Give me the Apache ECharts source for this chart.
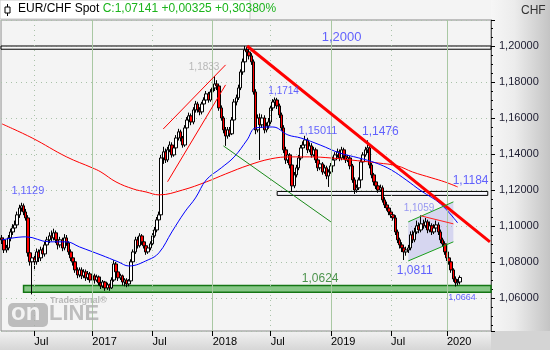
<!DOCTYPE html>
<html><head><meta charset="utf-8">
<script src="https://cdn.jsdelivr.net/npm/echarts@6/dist/echarts.min.js"></script>
<style>
html,body{margin:0;padding:0;background:#fff;}
#wrap{position:relative;width:550px;height:350px;overflow:hidden;}
#topbg{position:absolute;left:0;top:0;width:491px;height:20px;background:#f4f4f4;}
#rightbg{position:absolute;left:491px;top:0;width:59px;height:331px;background:linear-gradient(to right,#f6f6f6,#ececec 40%,#c4c4c4);}
#bottombg{position:absolute;left:0;top:331px;width:491px;height:19px;background:linear-gradient(to bottom,#f2f2f2,#d6d6d6);}
#cornerbg{position:absolute;left:491px;top:331px;width:59px;height:19px;background:#d4d4d4;}
#c{position:absolute;left:0;top:0;width:550px;height:350px;}
</style>
</head><body>
<div id="wrap"><div id="topbg"></div><div id="rightbg"></div><div id="bottombg"></div><div id="cornerbg"></div><div id="c"></div></div>
<script>
// weekly candles: [open, close, low, high]
const weeks = [
[1.0934,1.0923,1.0900,1.0950],[1.0923,1.0867,1.0850,1.0935],[1.0867,1.0878,1.0852,1.0895],[1.0878,1.0934,1.0865,1.0950],
[1.0934,1.0967,1.0915,1.0985],[1.0967,1.0989,1.0950,1.1010],[1.0989,1.1006,1.0970,1.1030],[1.1006,1.1062,1.0995,1.1080],
[1.1062,1.1100,1.1045,1.1118],[1.1100,1.1112,1.1080,1.1129],[1.1112,1.1078,1.1060,1.1125],[1.1078,1.1045,1.1030,1.1095],
[1.1045,1.0851,1.0830,1.1060],[1.0851,1.0801,1.0780,1.0880],[1.0801,1.0823,1.0620,1.0850],[1.0823,1.0801,1.0760,1.0840],
[1.0801,1.0856,1.0785,1.0875],[1.0856,1.0823,1.0800,1.0870],[1.0823,1.0867,1.0805,1.0885],[1.0867,1.0845,1.0825,1.0880],
[1.0845,1.0895,1.0830,1.0912],[1.0895,1.0923,1.0880,1.0940],[1.0923,1.0945,1.0905,1.0965],[1.0945,1.0934,1.0915,1.0975],
[1.0934,1.0962,1.0920,1.0985],[1.0962,1.0923,1.0905,1.0975],[1.0923,1.0895,1.0870,1.0935],[1.0895,1.0923,1.0880,1.0940],
[1.0923,1.0878,1.0860,1.0935],[1.0878,1.0934,1.0865,1.0955],[1.0934,1.0906,1.0890,1.0950],[1.0906,1.0856,1.0840,1.0915],
[1.0856,1.0823,1.0805,1.0870],[1.0823,1.0801,1.0780,1.0835],[1.0801,1.0756,1.0740,1.0815],[1.0756,1.0728,1.0710,1.0770],
[1.0728,1.0756,1.0715,1.0770],[1.0756,1.0723,1.0705,1.0770],[1.0723,1.0745,1.0710,1.0760],[1.0745,1.0712,1.0695,1.0758],
[1.0712,1.0734,1.0700,1.0750],[1.0734,1.0700,1.0685,1.0745],[1.0700,1.0723,1.0690,1.0740],[1.0723,1.0700,1.0680,1.0735],
[1.0700,1.0717,1.0690,1.0730],[1.0717,1.0684,1.0670,1.0725],[1.0684,1.0667,1.0650,1.0695],[1.0667,1.0689,1.0655,1.0700],
[1.0689,1.0656,1.0640,1.0695],[1.0656,1.0673,1.0645,1.0685],[1.0673,1.0656,1.0640,1.0680],[1.0656,1.0700,1.0650,1.0715],
[1.0700,1.0789,1.0690,1.0810],[1.0789,1.0745,1.0730,1.0800],[1.0745,1.0712,1.0695,1.0755],[1.0712,1.0723,1.0700,1.0735],
[1.0723,1.0689,1.0670,1.0730],[1.0689,1.0700,1.0665,1.0710],[1.0700,1.0678,1.0660,1.0710],[1.0678,1.0695,1.0665,1.0705],
[1.0695,1.0801,1.0690,1.0815],[1.0801,1.0856,1.0790,1.0870],[1.0856,1.0923,1.0845,1.0940],[1.0923,1.0890,1.0875,1.0940],
[1.0890,1.0945,1.0880,1.0960],[1.0945,1.0912,1.0895,1.0955],[1.0912,1.0890,1.0875,1.0925],[1.0890,1.0856,1.0840,1.0900],
[1.0856,1.0878,1.0845,1.0890],[1.0878,1.0901,1.0865,1.0915],[1.0901,1.0945,1.0890,1.0960],[1.0945,1.0978,1.0935,1.0995],
[1.0978,1.1034,1.0965,1.1050],[1.1034,1.1062,1.1020,1.1080],[1.1062,1.1378,1.1050,1.1395],[1.1378,1.1412,1.1345,1.1440],
[1.1412,1.1367,1.1350,1.1430],[1.1367,1.1423,1.1355,1.1440],[1.1423,1.1450,1.1410,1.1470],[1.1450,1.1395,1.1380,1.1465],
[1.1395,1.1434,1.1385,1.1450],[1.1434,1.1489,1.1420,1.1505],[1.1489,1.1523,1.1475,1.1540],[1.1523,1.1489,1.1470,1.1535],
[1.1489,1.1450,1.1435,1.1500],[1.1450,1.1545,1.1440,1.1560],[1.1545,1.1589,1.1530,1.1605],[1.1589,1.1612,1.1575,1.1630],
[1.1612,1.1578,1.1560,1.1625],[1.1578,1.1645,1.1565,1.1660],[1.1645,1.1678,1.1630,1.1695],[1.1678,1.1645,1.1630,1.1690],
[1.1645,1.1634,1.1615,1.1660],[1.1634,1.1678,1.1620,1.1690],[1.1678,1.1700,1.1665,1.1715],[1.1700,1.1734,1.1690,1.1750],
[1.1734,1.1700,1.1685,1.1745],[1.1700,1.1745,1.1690,1.1760],[1.1745,1.1767,1.1730,1.1785],[1.1767,1.1789,1.1750,1.1833],
[1.1789,1.1778,1.1755,1.1810],[1.1778,1.1656,1.1640,1.1790],[1.1656,1.1600,1.1585,1.1670],[1.1600,1.1534,1.1515,1.1610],
[1.1534,1.1500,1.1445,1.1550],[1.1500,1.1534,1.1485,1.1550],[1.1534,1.1512,1.1495,1.1550],[1.1512,1.1589,1.1505,1.1605],
[1.1589,1.1689,1.1580,1.1705],[1.1689,1.1712,1.1670,1.1730],[1.1712,1.1767,1.1700,1.1785],[1.1767,1.1856,1.1755,1.1870],
[1.1856,1.1912,1.1840,1.1930],[1.1912,1.1978,1.1900,1.2000],[1.1978,1.1967,1.1945,1.1995],[1.1967,1.1945,1.1925,1.1985],
[1.1945,1.1912,1.1895,1.1960],[1.1912,1.1745,1.1730,1.1925],[1.1745,1.1534,1.1510,1.1760],[1.1534,1.1600,1.1520,1.1620],
[1.1600,1.1562,1.1367,1.1625],[1.1562,1.1600,1.1545,1.1620],[1.1600,1.1534,1.1515,1.1615],[1.1534,1.1556,1.1520,1.1575],
[1.1556,1.1578,1.1540,1.1600],[1.1578,1.1656,1.1565,1.1670],[1.1656,1.1689,1.1640,1.1705],[1.1689,1.1700,1.1675,1.1714],
[1.1700,1.1667,1.1650,1.1712],[1.1667,1.1617,1.1600,1.1680],[1.1617,1.1545,1.1530,1.1630],[1.1545,1.1423,1.1405,1.1560],
[1.1423,1.1367,1.1345,1.1440],[1.1367,1.1395,1.1350,1.1415],[1.1395,1.1339,1.1320,1.1405],[1.1339,1.1223,1.1190,1.1350],
[1.1223,1.1284,1.1210,1.1300],[1.1284,1.1323,1.1270,1.1340],[1.1323,1.1378,1.1310,1.1395],[1.1378,1.1434,1.1365,1.1450],
[1.1434,1.1450,1.1420,1.1470],[1.1450,1.1478,1.1435,1.1501],[1.1478,1.1423,1.1405,1.1490],[1.1423,1.1445,1.1410,1.1465],
[1.1445,1.1395,1.1380,1.1460],[1.1395,1.1423,1.1385,1.1440],[1.1423,1.1367,1.1350,1.1435],[1.1367,1.1323,1.1305,1.1380],
[1.1323,1.1345,1.1310,1.1360],[1.1345,1.1300,1.1285,1.1355],[1.1300,1.1323,1.1290,1.1340],[1.1323,1.1278,1.1260,1.1335],
[1.1278,1.1300,1.1217,1.1315],[1.1300,1.1334,1.1290,1.1350],[1.1334,1.1367,1.1320,1.1385],[1.1367,1.1395,1.1355,1.1410],
[1.1395,1.1412,1.1380,1.1430],[1.1412,1.1378,1.1360,1.1425],[1.1378,1.1423,1.1365,1.1440],[1.1423,1.1389,1.1370,1.1435],
[1.1389,1.1367,1.1350,1.1400],[1.1367,1.1378,1.1355,1.1395],[1.1378,1.1334,1.1315,1.1390],[1.1334,1.1256,1.1240,1.1345],
[1.1256,1.1200,1.1178,1.1270],[1.1200,1.1212,1.1185,1.1230],[1.1212,1.1256,1.1200,1.1270],[1.1256,1.1356,1.1245,1.1370],
[1.1356,1.1395,1.1340,1.1410],[1.1395,1.1423,1.1385,1.1440],[1.1423,1.1434,1.1405,1.1476],[1.1434,1.1339,1.1320,1.1450],
[1.1339,1.1284,1.1265,1.1350],[1.1284,1.1245,1.1225,1.1295],[1.1245,1.1223,1.1205,1.1260],[1.1223,1.1200,1.1185,1.1240],
[1.1200,1.1212,1.1190,1.1230],[1.1212,1.1145,1.1130,1.1225],[1.1145,1.1117,1.1100,1.1160],[1.1117,1.1100,1.1085,1.1135],
[1.1100,1.1078,1.1060,1.1115],[1.1078,1.1062,1.1045,1.1095],[1.1062,1.1045,1.1030,1.1075],[1.1045,1.0967,1.0950,1.1060],
[1.0967,1.0923,1.0905,1.0980],[1.0923,1.0895,1.0875,1.0935],[1.0895,1.0878,1.0855,1.0910],[1.0878,1.0856,1.0811,1.0890],
[1.0856,1.0867,1.0835,1.0885],[1.0867,1.0878,1.0850,1.0895],[1.0878,1.0951,1.0865,1.0970],[1.0951,1.0923,1.0905,1.0975],
[1.0923,1.0967,1.0910,1.0990],[1.0967,1.1001,1.0955,1.1030],[1.1001,1.0978,1.0960,1.1020],[1.0978,1.1012,1.0965,1.1059],
[1.1012,1.1001,1.0985,1.1035],[1.1001,1.1023,1.0990,1.1045],[1.1023,1.0978,1.0960,1.1035],[1.0978,1.1001,1.0965,1.1025],
[1.1001,1.0967,1.0950,1.1015],[1.0967,1.0989,1.0955,1.1010],[1.0989,1.1006,1.0975,1.1030],[1.1006,1.0967,1.0950,1.1020],
[1.0967,1.0923,1.0905,1.0980],[1.0923,1.0901,1.0885,1.0935],[1.0901,1.0856,1.0840,1.0915],[1.0856,1.0823,1.0805,1.0865],
[1.0823,1.0801,1.0785,1.0835],[1.0801,1.0756,1.0740,1.0810],[1.0756,1.0706,1.0690,1.0765],[1.0706,1.0684,1.0664,1.0720],
[1.0684,1.0689,1.0670,1.0705],[1.0689,1.0714,1.0675,1.0725]
];
const totalWeeks = 228;               // slots on the time axis (incl. empty right margin)
const tickWeeks  = [15, 42, 70, 98, 125, 153, 181, 207];
const tickLabels = ['Jul','2017','Jul','2018','Jul','2019','Jul','2020'];
const yearWeeks  = [42, 98, 153, 207];
const julyWeeks  = [15, 70, 125, 181];

// moving averages: [week, value]
const maRed = [[0,1.1567],[14,1.1489],[30,1.1384],[42,1.1323],[46,1.1300],[53,1.1245],[61,1.1206],[67,1.1189],[73,1.1173],
  [84,1.1200],[95,1.1245],[104,1.1289],[115,1.1339],[125,1.1373],[134,1.1384],[143,1.1384],[153,1.1378],[162,1.1367],
  [175,1.1350],[184,1.1334],[191,1.1300],[200,1.1267],[206,1.1245],[212,1.1217]];
const maBlue = [[0,1.0923],[11,1.0940],[22,1.0912],[30,1.0912],[36,1.0884],[46,1.0839],[54,1.0801],[59,1.0778],[68,1.0812],
  [73,1.0851],[79,1.0967],[85,1.1078],[90,1.1156],[95,1.1256],[102,1.1323],[108,1.1384],[114,1.1478],[118,1.1545],
  [126,1.1550],[133,1.1506],[139,1.1489],[148,1.1450],[157,1.1406],[166,1.1378],[174,1.1350],[181,1.1312],[188,1.1256],
  [195,1.1195],[204,1.1123],[212,1.1017]];

// drawn annotations: [week, price] pairs
const downTrend   = [[114,1.2000],[227,1.0912]];
const wedgeUpper  = [[75,1.1539],[104,1.1895]];
const wedgeLower  = [[77,1.1246],[104,1.1784]];
const greenTrend  = [[103,1.1445],[153,1.1023]];
const flagUpper   = [[189,1.1023],[210,1.1134]];
const flagLower   = [[189,1.0806],[210,1.0912]];
const flagInner   = [[195,1.1056],[210,1.1012]];
const topBand     = [1.2000, 1.1982];
const midBand     = {from:128, to:226, hi:1.1192, lo:1.1170};
const supportBand = {from:10, hi:1.0669, lo:1.0632};

const notes = [
  {t:'1,1129', w:12,  p:1.1195, c:'#3c3cff', s:11},
  {t:'1,1833', w:94,  p:1.1884, c:'#a8a8a8', s:10},
  {t:'1,2000', w:158, p:1.2050, c:'#3c3cff', s:13},
  {t:'1,1714', w:131, p:1.1750, c:'#3c3cff', s:10},
  {t:'1,15011',w:147, p:1.1528, c:'#3c3cff', s:11},
  {t:'1,1476', w:176, p:1.1523, c:'#3c3cff', s:12},
  {t:'1,1184', w:218, p:1.1250, c:'#3c3cff', s:12},
  {t:'1,1059', w:194, p:1.1100, c:'#8080f0', s:10},
  {t:'1,0811', w:192, p:1.0750, c:'#3c3cff', s:12},
  {t:'1,0624', w:148, p:1.0706, c:'#207a20', s:12},
  {t:'1,0664', w:214, p:1.0600, c:'#3c3cff', s:9}
];
const instrument = 'EUR/CHF Spot';
const quote = 'C:1,07141 +0,00325 +0,30380%';
const currency = 'CHF';

const cats = Array.from({length: totalWeeks}, (_, i) => String(i));
const tickSet = new Set(tickWeeks);
const FONT = "'Liberation Sans', Arial, sans-serif";

const seg = (pts, color, width) => [{coord: pts[0], lineStyle:{color, width, type:'solid'}}, {coord: pts[1]}];

const chart = echarts.init(document.getElementById('c'), null, {renderer:'canvas'});
chart.setOption({
  animation: false,
  backgroundColor: 'transparent',
  grid: {left: 1, right: 59, top: 20, bottom: 19, show: true, backgroundColor: '#f4f4f4', borderColor: '#8a8a8a', borderWidth: 1},
  xAxis: {
    type: 'category', data: cats, boundaryGap: true,
    axisLine: {show: false},
    axisTick: {show: true, alignWithLabel: true, length: 5, interval: (i) => tickSet.has(i), lineStyle: {color: '#000'}},
    axisLabel: {interval: (i) => tickSet.has(i), formatter: (v, i) => tickLabels[tickWeeks.indexOf(i)] || '',
      align: 'left', margin: 5, fontSize: 11, color: '#000', fontFamily: FONT},
    splitLine: {show: false}
  },
  yAxis: {
    type: 'value', position: 'right', min: 1.04167, max: 1.21444, splitNumber: 9, scale: true,
    axisLine: {show: true, lineStyle: {color: '#555'}},
    axisTick: {show: true, length: 4, lineStyle: {color: '#000'}},
    minorTick: {show: true, splitNumber: 4, length: 2, lineStyle: {color: '#000'}},
    axisLabel: {formatter: v => v.toFixed(5).replace('.', ','), fontSize: 11, color: '#1c1c30', margin: 8,
      showMinLabel: false, showMaxLabel: false, fontFamily: FONT},
    splitLine: {show: true, lineStyle: {color: '#a9c2a9', type: [1, 4], width: 1}}
  },
  series: [
    { // vertical calendar grid
      type: 'line', data: [], z: 1, silent: true,
      markLine: {silent: true, symbol: ['none','none'], label: {show: false},
        data: yearWeeks.map(w => ({xAxis: w, lineStyle: {color: '#a9c8a3', width: 1, type: 'solid'}}))
          .concat(julyWeeks.map(w => ({xAxis: w, lineStyle: {color: '#a9c2a9', width: 1, type: [1, 4]}})))}
    },
    { // flag channel shading
      type: 'custom', z: 2, silent: true, data: [[0, 1.1]],
      renderItem: (params, api) => ({
        type: 'polygon',
        shape: {points: [flagUpper[0], flagUpper[1], flagLower[1], flagLower[0]].map(p => api.coord(p))},
        style: {fill: 'rgba(178,178,236,0.45)'}
      })
    },
    { // boxes behind candles
      type: 'line', data: [], z: 2, silent: true,
      markArea: {silent: true, data: [
        [{yAxis: topBand[0], itemStyle: {color: 'rgba(250,250,250,0.6)', borderColor: '#000', borderWidth: 1}}, {yAxis: topBand[1]}],
        [{coord: [midBand.from, midBand.hi], itemStyle: {color: 'rgba(248,248,255,0.9)', borderColor: '#000', borderWidth: 1}}, {coord: [midBand.to, midBand.lo]}]
      ]}
    },
    {
      name: 'EUR/CHF', type: 'candlestick', data: weeks, z: 3, barWidth: 3,
      itemStyle: {color: '#ffffff', color0: '#ff0000', borderColor: '#000000', borderColor0: '#000000', borderWidth: 1}
    },
    {type: 'line', data: maRed, z: 4, smooth: 0.4, showSymbol: false, silent: true, lineStyle: {color: '#ff0000', width: 1}},
    {type: 'line', data: maBlue, z: 4, smooth: 0.4, showSymbol: false, silent: true, lineStyle: {color: '#0000ff', width: 1}},
    { // support band and trend lines on top
      type: 'line', data: [], z: 5, silent: true,
      markArea: {silent: true, data: [
        [{coord: [supportBand.from, supportBand.hi], itemStyle: {color: 'rgba(60,168,60,0.6)', borderColor: '#137513', borderWidth: 1.5}},
         {yAxis: supportBand.lo}]
      ]},
      markLine: {silent: true, symbol: ['none','none'], label: {show: false}, data: [
        seg(downTrend, '#ff0000', 3),
        seg(wedgeUpper, '#ff0000', 1),
        seg(wedgeLower, '#ff0000', 1),
        seg(greenTrend, '#1a8a1a', 1),
        seg(flagUpper, '#1aa01a', 1),
        seg(flagLower, '#1aa01a', 1),
        seg(flagInner, '#ff2020', 1)
      ]}
    },
    {
      type: 'scatter', z: 6, silent: true, symbolSize: 0,
      data: notes.map(n => ({value: [n.w, n.p], label: {show: true, position: 'inside', formatter: n.t, color: n.c, fontSize: n.s, fontFamily: FONT}}))
    }
  ],
  graphic: [
    {type: 'rect', z: 100, shape: {x: 0, y: 0, width: 250, height: 19}, style: {fill: '#ffffff', stroke: '#c8c8c8', lineWidth: 1}},
    {type: 'line', z: 101, shape: {x1: 7.5, y1: 4, x2: 7.5, y2: 16}, style: {stroke: '#000', lineWidth: 1}},
    {type: 'rect', z: 102, shape: {x: 5, y: 7, width: 5, height: 6}, style: {fill: '#fff', stroke: '#000', lineWidth: 1}},
    {type: 'text', z: 101, left: 18, top: 3, style: {
      text: '{a|' + instrument + '} {b|' + quote + '}',
      rich: {a: {fontSize: 12, fill: '#000', fontFamily: FONT}, b: {fontSize: 12, fill: '#1cb41c', fontFamily: FONT}}}},
    {type: 'text', z: 101, left: 521, top: 5, style: {text: currency, fontSize: 12, fill: '#333', fontFamily: FONT}},
    {type: 'text', z: 90, left: 50, top: 296, style: {text: 'Tradesignal®', fontSize: 9, fontWeight: 'bold', fill: 'rgba(160,160,160,0.7)', fontFamily: FONT}},
    {type: 'rect', z: 90, shape: {x: 8, y: 303, width: 40, height: 24, r: 5}, style: {fill: 'rgba(170,170,170,0.75)'}},
    {type: 'text', z: 91, left: 11, top: 301, style: {text: 'on', fontSize: 24, fontWeight: 'bold', fill: 'rgba(245,245,245,0.95)', fontFamily: FONT}},
    {type: 'text', z: 91, left: 49, top: 303, style: {text: 'LINE', fontSize: 22, fontWeight: 'bold', fill: 'rgba(175,175,175,0.8)', fontFamily: FONT}}
  ]
});
</script>
</body></html>
